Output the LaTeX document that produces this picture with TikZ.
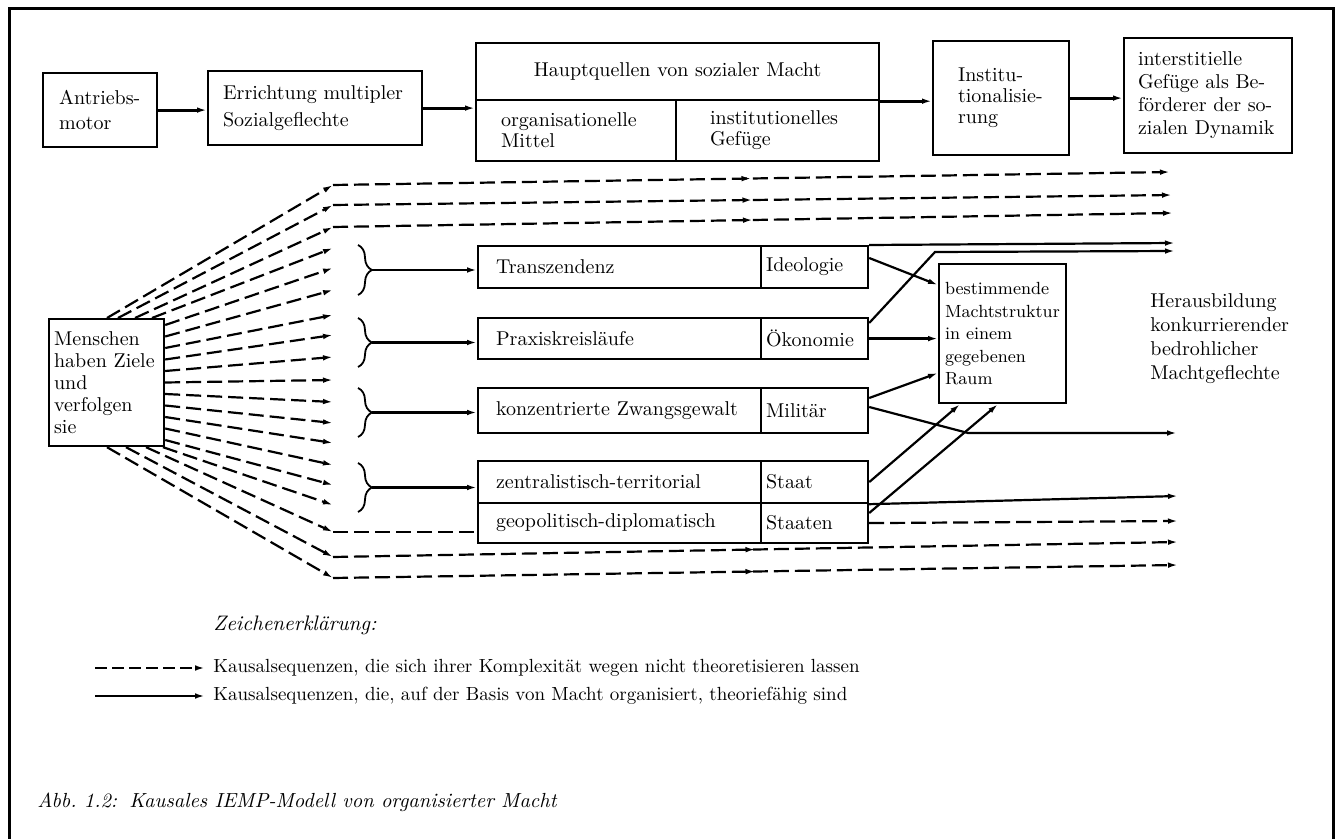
\documentclass[tikz,border=0pt]{standalone}
\usepackage{fontspec}
\usetikzlibrary{arrows.meta,decorations.pathreplacing,decorations.markings,calc}
\tikzset{
  box/.style={draw, line width=1.1pt, inner ysep=0pt, align=left, anchor=north west, font=\fontsize{10}{12}\selectfont},
  tipx/.style={-{Latex[length=5pt,width=2.8pt]}},
  solidc/.style={line width=1.1pt, tipx},
  dashc/.style={line width=1.1pt, dash pattern=on 7.5pt off 3pt, tipx},
  dashplain/.style={line width=1.1pt, dash pattern=on 7.5pt off 3pt},
  topc/.style={line width=1.5pt, tipx},
  midarrow/.style={postaction=decorate, decoration={markings, mark=at position 0.5 with {\arrow{Latex[length=5pt,width=2.8pt]}}}},
  bracec/.style={decorate, decoration={brace, amplitude=7pt}, line width=0.9pt},
  legdash/.style={line width=1.1pt, dash pattern=on 6pt off 2.5pt, tipx},
  plain/.style={inner sep=0pt, align=left},
}
\begin{document}
\begin{tikzpicture}[x=0.5pt,y=-0.5pt]
\useasboundingbox (0,0) rectangle (1340,839);
% frame
\draw[line width=1.5pt] (9,839) -- (9,9) -- (1333,9) -- (1333,839);

% top row
\node[box, inner xsep=8pt, text width=41pt, minimum height=37pt, font=\fontsize{10}{12.5}\selectfont] (A) at (42,72) {Antriebs-\\motor};
\node[box, inner xsep=7.5pt, text width=92pt, minimum height=37pt, font=\fontsize{10}{13.5}\selectfont] (B) at (207,70) {Errichtung~multipler\\Sozialgeflechte};
\node[box, align=center, inner xsep=4pt, text width=193.5pt, minimum height=28.5pt] (Ctop) at (475,42) {Hauptquellen von sozialer Macht};
\node[box, inner xsep=12.5pt, text width=75pt, minimum height=30.5pt, font=\fontsize{10}{10.5}\selectfont] (C1) at (475,99) {organisationelle\\Mittel};
\node[box, inner xsep=17pt, text width=67.5pt, minimum height=30.5pt, font=\fontsize{10}{10.5}\selectfont] (C2) at (675,99) {institutionelles\\Gefüge};
\node[box, inner xsep=12.5pt, text width=43pt, minimum height=57pt, font=\fontsize{10}{10.5}\selectfont] (D) at (932,40) {Institu-\\tionalisie-\\rung};
\node[box, inner xsep=7pt, text width=70pt, minimum height=57.5pt, font=\fontsize{10}{11.5}\selectfont] (E) at (1123,37) {interstitielle\\Gefüge~als~Be-\\förderer~der~so-\\zialen~Dynamik};

\draw[topc] (A.east) -- (A.east -| B.west);
\draw[topc] (B.east) -- (B.east -| Ctop.west);
\draw[topc] (Ctop.south east) -- (Ctop.south east -| D.west);
\draw[topc] (D.east) -- (D.east -| E.west);

% Menschen
\node[box, inner xsep=2.5pt, text width=52.5pt, minimum height=63.5pt, font=\fontsize{10}{11}\selectfont] (F) at (48,318) {Menschen\\haben~Ziele\\und\\verfolgen\\sie};

% rows
\node[box, inner xsep=9pt, text width=123.5pt, minimum height=21pt] (T1) at (477,245) {Transzendenz};
\node[box, inner xsep=2.5pt, text width=48.5pt, minimum height=21pt] (I1) at (760,245) {Ideologie};
\node[box, inner xsep=9pt, text width=123.5pt, minimum height=20.5pt] (T2) at (477,317) {Praxiskreisläufe};
\node[box, inner xsep=2.5pt, text width=48.5pt, minimum height=20.5pt] (I2) at (760,317) {Ökonomie};
\node[box, inner xsep=9pt, text width=123.5pt, minimum height=22.5pt] (T3) at (477,387) {konzentrierte~Zwangsgewalt};
\node[box, inner xsep=2.5pt, text width=48.5pt, minimum height=22.5pt] (I3) at (760,387) {Militär};
\node[box, inner xsep=9pt, text width=123.5pt, minimum height=21pt] (T4) at (477,460) {zentralistisch-territorial};
\node[box, inner xsep=2.5pt, text width=48.5pt, minimum height=21pt] (I4) at (760,460) {Staat};
\node[box, inner xsep=9pt, text width=123.5pt, minimum height=20pt] (T5) at (477,502) {geopolitisch-diplomatisch};
\node[box, inner xsep=2.5pt, text width=48.5pt, minimum height=20pt] (I5) at (760,502) {Staaten};

% Machtstruktur
\node[box, inner xsep=3pt, text width=57.5pt, minimum height=69.5pt, font=\fontsize{8.8}{11.25}\selectfont] (G) at (938,263) {bestimmende\\Machtstruktur\\in~einem\\gegebenen\\Raum};

% right text
\node[plain, anchor=west, font=\fontsize{10}{12}\selectfont] (H) at (1150,339) {Herausbildung\\konkurrierender\\bedrohlicher\\Machtgeflechte};

% fan tips
\foreach \i/\y in {1/185,2/205,3/227,4/248,5/268,6/290,7/315,8/335,9/357,10/380,11/402,12/423,13/443,14/465,15/485,16/505,17/532,18/557,19/578}
  \coordinate (f\i) at (333,\y);
\foreach \i/\dx in {1/59,2/70,3/87,4/104}
  \draw[dashc] ($(F.north west)+(\dx,0)$) -- (f\i);
\foreach \i/\dy in {5/7,6/18.5,7/30,8/41.5,9/53,10/64.5,11/76,12/87.5,13/99,14/110.5,15/122}
  \draw[dashc] ($(F.north east)+(0,\dy)$) -- (f\i);
\foreach \i/\dx in {16/115,17/98,18/78,19/59}
  \draw[dashc] ($(F.south west)+(\dx,0)$) -- (f\i);

% long dashed lines
\coordinate (e1) at (1170,172);
\coordinate (e2) at (1172,195);
\coordinate (e3) at (1173,213);
\coordinate (e18) at (1178,542);
\coordinate (e19) at (1178,565);
\draw[dashc, midarrow] (f1) -- (e1);
\draw[dashc, midarrow] (f2) -- (e2);
\draw[dashc, midarrow] (f3) -- (e3);
\draw[dashc, midarrow] (f18) -- (e18);
\draw[dashc, midarrow] (f19) -- (e19);
\draw[dashplain] (f17) -- (f17 -| T5.west);

% braces
\draw[bracec] (358,245) -- (358,295);
\draw[bracec] (358,318) -- (358,367);
\draw[bracec] (358,388) -- (358,437);
\draw[bracec] (358,463) -- (358,512);
\coordinate (b1) at (372,270);
\coordinate (b2) at (372,342.5);
\coordinate (b3) at (372,412.5);
\coordinate (b4) at (372,487.5);
\draw[solidc] (b1) -- (b1 -| T1.west);
\draw[solidc] (b2) -- (b2 -| T2.west);
\draw[solidc] (b3) -- (b3 -| T3.west);
\draw[solidc] (b4) -- (b4 -| T4.west);

% right-side connectors
\coordinate (r1) at (1175,243);
\coordinate (k2) at (935,252);
\coordinate (r2) at (1175,251);
\coordinate (k3) at (968,433);
\coordinate (r3) at (1177,433);
\coordinate (r4) at (1178,496);
\coordinate (r5) at (1178,521);
\draw[solidc] (I1.north east) -- (r1);
\draw[solidc] ($(I2.north east)+(0,6)$) -- (k2) -- (r2);
\draw[solidc] ($(I1.north east)+(0,13)$) -- ($(G.north west)+(0,22)$);
\draw[solidc] (I2.east) -- (I2.east -| G.west);
\draw[solidc] ($(I3.north east)+(0,11)$) -- ($(G.north west)+(0,110)$);
\draw[solidc] ($(I3.north east)+(0,20)$) -- (k3) -- (r3);
\draw[solidc] (I4.east) -- ($(G.south west)+(22,0)$);
\draw[solidc] ($(I5.north east)+(0,11)$) -- ($(G.south west)+(60,0)$);
\draw[solidc] (I4.south east) -- (r4);
\draw[dashc] (I5.east) -- (r5);

% legend
\node[plain, anchor=west, font=\fontsize{10.5}{12}\selectfont\itshape] (ZE) at (213,625) {Zeichenerklärung:};
\node[anchor=west, inner xsep=4pt, inner ysep=0pt, font=\fontsize{9.5}{11}\selectfont] (L1) at (205,668) {Kausalsequenzen, die sich ihrer Komplexität wegen nicht theoretisieren lassen};
\node[anchor=west, inner xsep=4pt, inner ysep=0pt, font=\fontsize{9.5}{11}\selectfont] (L2) at (205,696) {Kausalsequenzen, die, auf der Basis von Macht organisiert, theoriefähig sind};
\coordinate (l1) at (95,668);
\coordinate (l2) at (95,696);
\draw[legdash] (l1) -- (L1.west);
\draw[solidc] (l2) -- (L2.west);

% caption
\node[plain, anchor=west, font=\fontsize{10.2}{12}\selectfont\itshape] (CAP) at (37,802) {Abb.~1.2:\hspace{0.6em}Kausales IEMP-Modell von organisierter Macht};
\end{tikzpicture}
\end{document}
